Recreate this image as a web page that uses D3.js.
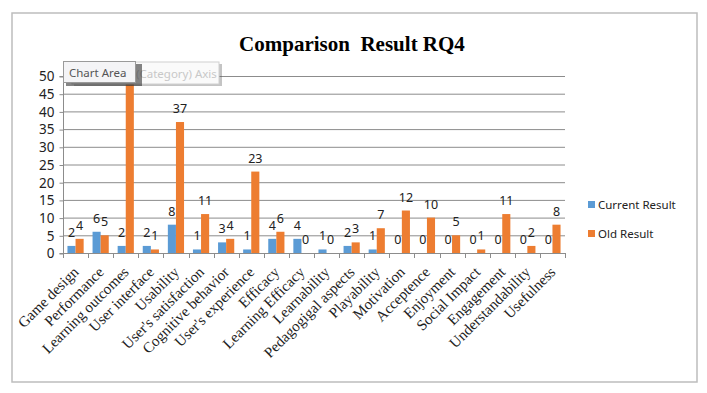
<!DOCTYPE html>
<html>
<head>
<meta charset="utf-8">
<script src="https://cdn.jsdelivr.net/npm/d3@7"></script>
<style>
body { margin: 0; background: #fff; }
</style>
</head>
<body>
<script>
var categories = ["Game design", "Performance", "Learning outcomes", "User interface", "Usability",
    "User's satisfaction", "Cognitive behavior", "User's experience", "Efficacy", "Learning Efficacy",
    "Learnability", "Pedagogigal aspects", "Playability", "Motivation", "Acceptence", "Enjoyment",
    "Social Impact", "Engagement", "Understandability", "Usefulness"];
var currentResult = [2, 6, 2, 2, 8, 1, 3, 1, 4, 4, 1, 2, 1, 0, 0, 0, 0, 0, 0, 0];
var oldResult = [4, 5, 52, 1, 37, 11, 4, 23, 6, 0, 0, 3, 7, 12, 10, 5, 1, 11, 2, 8];
var seriesNames = ["Current Result", "Old Result"];
var yTicks = [0, 5, 10, 15, 20, 25, 30, 35, 40, 45, 50];

var width = 707, height = 393;
var colors = ["#5b9bd5", "#ed7d31"];
var sansFont = "'Noto Sans', 'DejaVu Sans', sans-serif";
var serifFont = "'Liberation Serif', 'Times New Roman', serif";

var svg = d3.select("body").append("svg")
    .attr("width", width)
    .attr("height", height);

// chart area frame
svg.append("rect")
    .attr("x", 12).attr("y", 13)
    .attr("width", 685).attr("height", 369)
    .attr("fill", "#fff")
    .attr("stroke", "#bdbdbd")
    .attr("stroke-width", 1.5);

svg.append("text")
    .attr("x", 352).attr("y", 51)
    .attr("text-anchor", "middle")
    .attr("font-family", serifFont)
    .attr("font-weight", "bold")
    .attr("font-size", 21)
    .attr("xml:space", "preserve")
    .text("Comparison  Result RQ4");

var x = d3.scaleBand().domain(categories).range([63, 565]);
var y = d3.scaleLinear().domain([0, 50]).range([253, 76]);
var inner = d3.scaleBand().domain(seriesNames).range([0, x.bandwidth()]).paddingOuter(0.55).paddingInner(0);

// gridlines
svg.append("g").selectAll("line")
    .data(yTicks.slice(1))
    .join("line")
    .attr("x1", 63).attr("x2", 565)
    .attr("y1", function(d) { return y(d) + 0.5; })
    .attr("y2", function(d) { return y(d) + 0.5; })
    .attr("stroke", "#8c8c8c")
    .attr("stroke-width", 1);

// y axis
var yAxis = svg.append("g")
    .attr("transform", "translate(63.5,0.5)")
    .call(d3.axisLeft(y).tickValues(yTicks).tickSize(4).tickPadding(5));
yAxis.select(".domain").attr("stroke", "#8c8c8c").attr("d", "M-4," + y(0) + "H0V" + y(50) + "H-4");
yAxis.selectAll(".tick line").attr("stroke", "#8c8c8c");
yAxis.selectAll(".tick text")
    .attr("font-family", sansFont)
    .attr("font-size", 13.5)
    .attr("fill", "#222");

svg.append("clipPath").attr("id", "plotclip")
    .append("rect")
    .attr("x", 63).attr("y", y(50))
    .attr("width", 502).attr("height", y(0) - y(50));

var series = [currentResult, oldResult];
var barsG = svg.append("g").attr("clip-path", "url(#plotclip)");
var labelsG = svg.append("g");

series.forEach(function(vals, s) {
    barsG.selectAll(".bar" + s)
        .data(vals)
        .join("rect")
        .attr("class", "bar" + s)
        .attr("x", function(d, i) { return x(categories[i]) + inner(seriesNames[s]); })
        .attr("width", inner.bandwidth())
        .attr("y", function(d) { return y(d); })
        .attr("height", function(d) { return y(0) - y(d); })
        .attr("fill", colors[s]);

    // a bar running off the top gets its label just inside the plot edge
    labelsG.selectAll(".lab" + s)
        .data(vals)
        .join("text")
        .attr("class", "lab" + s)
        .attr("x", function(d, i) { return x(categories[i]) + inner(seriesNames[s]) + inner.bandwidth() / 2; })
        .attr("y", function(d) { return d > 50 ? y(50) + 5 : y(d) - 9; })
        .attr("text-anchor", "middle")
        .attr("font-family", sansFont)
        .attr("font-size", 12.5)
        .attr("fill", "#222")
        .text(function(d) { return d; });
});

// x axis
svg.append("line")
    .attr("x1", 63).attr("x2", 565)
    .attr("y1", y(0) + 0.5).attr("y2", y(0) + 0.5)
    .attr("stroke", "#8c8c8c");
svg.append("g").selectAll("line")
    .data(d3.range(categories.length + 1))
    .join("line")
    .attr("x1", function(i) { return Math.round(63 + i * x.step()) + 0.5; })
    .attr("x2", function(i) { return Math.round(63 + i * x.step()) + 0.5; })
    .attr("y1", y(0)).attr("y2", y(0) + 5)
    .attr("stroke", "#8c8c8c");

svg.append("g").selectAll("text")
    .data(categories)
    .join("text")
    .attr("transform", function(d) {
        return "translate(" + (x(d) + x.bandwidth() / 2 + 4) + "," + 273 + ") rotate(-45)";
    })
    .attr("text-anchor", "end")
    .attr("font-family", serifFont)
    .attr("font-size", 15)
    .attr("fill", "#222")
    .text(function(d) { return d; });

// legend
var legend = svg.append("g").selectAll("g")
    .data(seriesNames)
    .join("g")
    .attr("transform", function(d, i) { return "translate(588," + (201 + i * 29) + ")"; });
legend.append("rect")
    .attr("width", 7).attr("height", 7)
    .attr("fill", function(d, i) { return colors[i]; });
legend.append("text")
    .attr("x", 10).attr("y", 8)
    .attr("font-family", sansFont)
    .attr("font-size", 11.5)
    .attr("fill", "#222")
    .text(function(d) { return d; });

// hover tooltip left over in the screenshot
var tip = svg.append("g");
tip.append("rect")
    .attr("x", 74).attr("y", 64).attr("width", 148).attr("height", 22)
    .attr("fill", "#555").attr("opacity", 0.35);
tip.append("rect")
    .attr("x", 72).attr("y", 62).attr("width", 147).attr("height", 22)
    .attr("fill", "#fafafa").attr("stroke", "#d0d0d0");
tip.append("text")
    .attr("x", 136).attr("y", 78)
    .attr("font-family", sansFont).attr("font-size", 11.5)
    .attr("fill", "#c8c8c8")
    .text("(Category) Axis");
tip.append("rect")
    .attr("x", 66).attr("y", 64).attr("width", 76).attr("height", 22)
    .attr("fill", "#333").attr("opacity", 0.6);
tip.append("rect")
    .attr("x", 63.5).attr("y", 61.5).attr("width", 72).attr("height", 21)
    .attr("fill", "#f4f4f6").attr("stroke", "#9a9a9a");
tip.append("text")
    .attr("x", 69).attr("y", 77)
    .attr("font-family", sansFont).attr("font-size", 11.5)
    .attr("fill", "#555")
    .text("Chart Area");
</script>
</body>
</html>
